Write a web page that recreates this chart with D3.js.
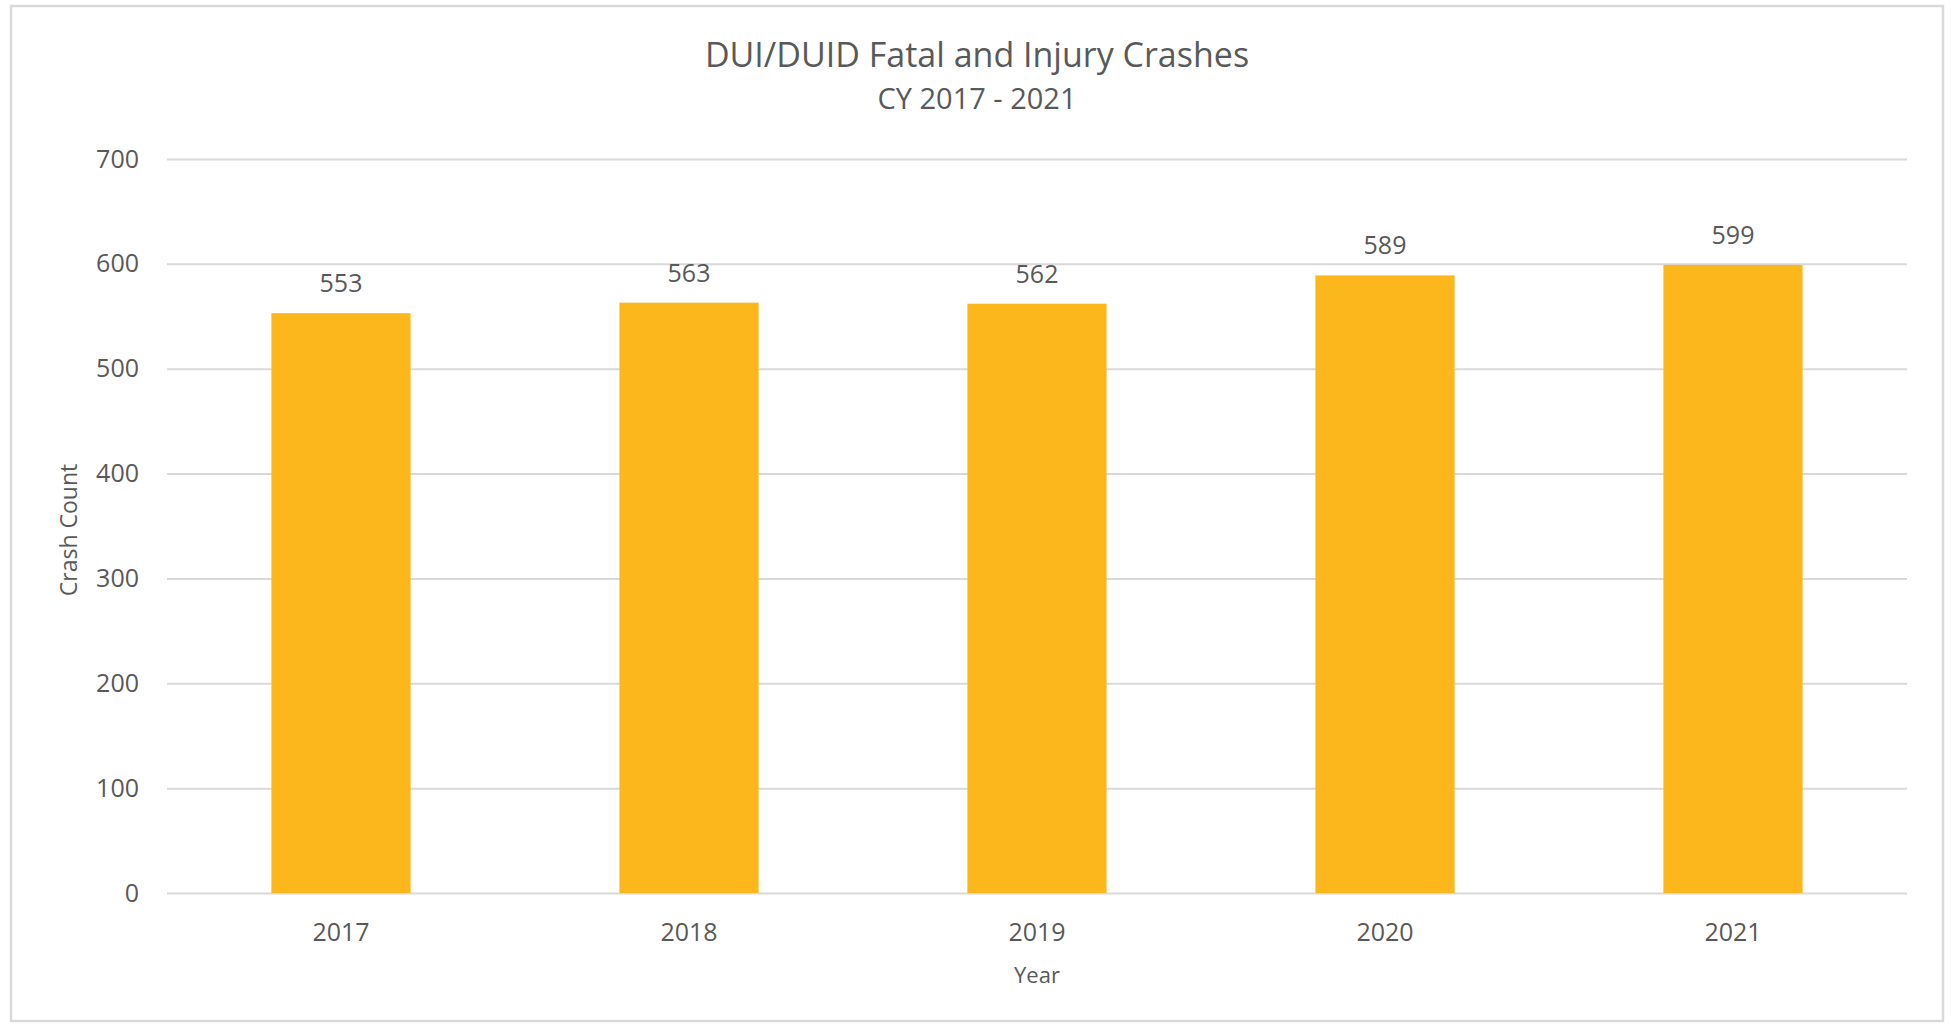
<!DOCTYPE html>
<html>
<head>
<meta charset="utf-8">
<script src="https://cdn.jsdelivr.net/npm/d3@7"></script>
<style>
  html, body { margin: 0; padding: 0; background: #ffffff; }
  svg { display: block; }
  text { font-family: "Open Sans", "Noto Sans", sans-serif; fill: #595959; }
</style>
</head>
<body>
<svg id="chart" width="1951" height="1026"></svg>
<script>
// Fatal and injury crashes involving DUI/DUID, by calendar year
const years = ["2017", "2018", "2019", "2020", "2021"];
const crashCounts = [553, 563, 562, 589, 599];
const yTicks = [0, 100, 200, 300, 400, 500, 600, 700];

const title = "DUI/DUID Fatal and Injury Crashes";
const subtitle = "CY 2017 - 2021";
const xTitle = "Year";
const yTitle = "Crash Count";

const plot = { left: 167, right: 1907, top: 159, bottom: 893 };

const svg = d3.select("#chart");

// outer frame
svg.append("rect")
  .attr("x", 11).attr("y", 6)
  .attr("width", 1932).attr("height", 1015)
  .attr("fill", "#ffffff")
  .attr("stroke", "#d9d9d9")
  .attr("stroke-width", 2.5);

const x = d3.scaleBand()
  .domain(years)
  .range([plot.left, plot.right])
  .paddingInner(0.6)
  .paddingOuter(0.3);

const y = d3.scaleLinear()
  .domain([0, 700])
  .range([plot.bottom, plot.top]);

// horizontal gridlines with value labels on the left
const yAxis = d3.axisLeft(y)
  .tickValues(yTicks)
  .tickSize(-(plot.right - plot.left))
  .tickPadding(28)
  .tickFormat(d3.format("d"));

const gy = svg.append("g")
  .attr("transform", `translate(${plot.left},0)`)
  .call(yAxis);
gy.select(".domain").remove();
gy.selectAll(".tick line")
  .attr("stroke", "#d9d9d9")
  .attr("stroke-width", 2);
gy.selectAll(".tick text")
  .attr("font-size", 25)
  .attr("fill", "#595959");

const rows = years.map((yr, i) => ({ yr, v: crashCounts[i] }));

// bars
svg.append("g")
  .selectAll("rect")
  .data(rows)
  .join("rect")
  .attr("x", d => x(d.yr))
  .attr("width", x.bandwidth())
  .attr("y", d => y(d.v))
  .attr("height", d => y(0) - y(d.v))
  .attr("fill", "#fcb71c");

// value labels above bars
svg.append("g")
  .selectAll("text")
  .data(rows)
  .join("text")
  .attr("x", d => x(d.yr) + x.bandwidth() / 2)
  .attr("y", d => y(d.v) - 21)
  .attr("text-anchor", "middle")
  .attr("font-size", 25)
  .text(d => d.v);

// category axis labels
const xAxis = d3.axisBottom(x).tickSize(0).tickPadding(30);
const gx = svg.append("g")
  .attr("transform", `translate(0,${plot.bottom})`)
  .call(xAxis);
gx.select(".domain").remove();
gx.selectAll(".tick text")
  .attr("font-size", 25)
  .attr("fill", "#595959");

// titles
svg.append("text")
  .attr("x", 977).attr("y", 67)
  .attr("text-anchor", "middle")
  .attr("font-size", 34)
  .text(title);

svg.append("text")
  .attr("x", 977).attr("y", 109)
  .attr("text-anchor", "middle")
  .attr("font-size", 29)
  .text(subtitle);

svg.append("text")
  .attr("x", (plot.left + plot.right) / 2).attr("y", 983)
  .attr("text-anchor", "middle")
  .attr("font-size", 22)
  .text(xTitle);

svg.append("text")
  .attr("transform", `translate(77,${(plot.top + plot.bottom) / 2 + 4}) rotate(-90)`)
  .attr("text-anchor", "middle")
  .attr("font-size", 23)
  .text(yTitle);
</script>
</body>
</html>
